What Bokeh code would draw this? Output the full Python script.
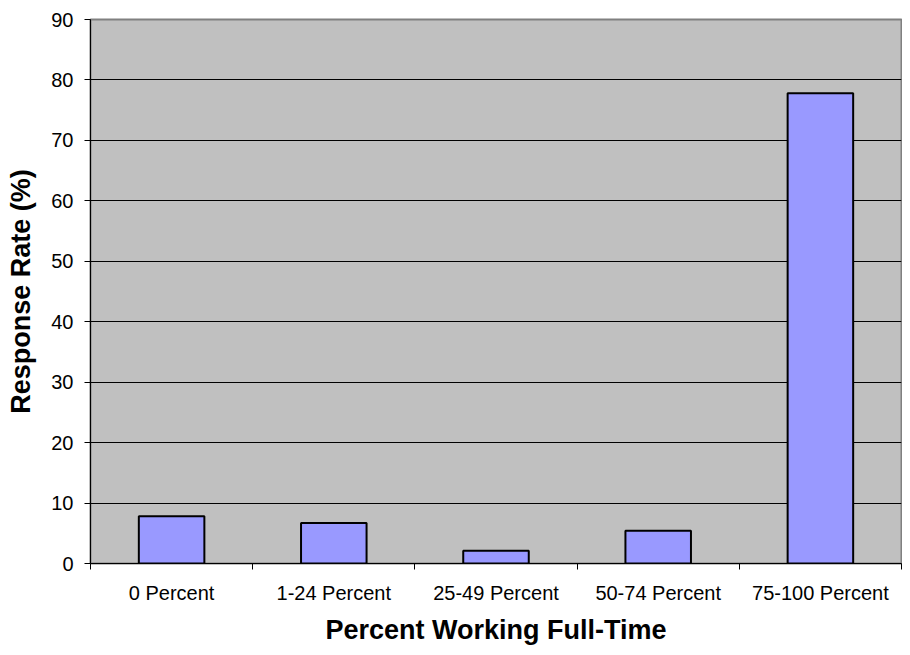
from bokeh.plotting import figure
from bokeh.models import FixedTicker, Range1d
from bokeh.embed import file_html
from bokeh.resources import INLINE

categories = ["0 Percent", "1-24 Percent", "25-49 Percent", "50-74 Percent", "75-100 Percent"]
response_rate = [7.8, 6.7, 2.1, 5.4, 77.8]
y_ticks = [0, 10, 20, 30, 40, 50, 60, 70, 80, 90]

xs = [i + 0.5 for i in range(len(categories))]

p = figure(width=902, height=647, output_backend="svg", toolbar_location=None,
           x_range=Range1d(0, len(categories)), y_range=Range1d(0, 90),
           min_border_left=90, min_border_right=1, min_border_top=19, min_border_bottom=84)

p.background_fill_color = "#C0C0C0"
p.border_fill_color = "white"
p.outline_line_color = "#808080"
p.outline_line_width = 2

p.vbar(x=xs, top=response_rate, width=0.404, bottom=0,
       fill_color="#9999FF", line_color="black", line_width=2)

FONT = "Liberation Sans"

# x axis
p.xaxis.ticker = FixedTicker(ticks=xs, minor_ticks=list(range(len(categories) + 1)))
p.xaxis.major_label_overrides = {x: c for x, c in zip(xs, categories)}
p.xaxis.major_tick_line_color = None
p.xaxis.major_tick_in = 0
p.xaxis.major_tick_out = 6
p.xaxis.minor_tick_in = 0
p.xaxis.minor_tick_out = 6
p.xaxis.minor_tick_line_color = "black"
p.xaxis.axis_line_color = "black"
p.xaxis.major_label_text_font = FONT
p.xaxis.major_label_text_font_size = "20px"
p.xaxis.major_label_text_color = "black"
p.xaxis.major_label_standoff = 12
p.xaxis.axis_label = "Percent Working Full-Time"
p.xaxis.axis_label_text_font = FONT
p.xaxis.axis_label_text_font_size = "27px"
p.xaxis.axis_label_text_font_style = "bold"
p.xaxis.axis_label_text_color = "black"
p.xaxis.axis_label_standoff = 8

# y axis
p.yaxis.ticker = FixedTicker(ticks=y_ticks)
p.yaxis.major_tick_in = 0
p.yaxis.major_tick_out = 6
p.yaxis.minor_tick_line_color = None
p.yaxis.axis_line_color = "black"
p.yaxis.major_tick_line_color = "black"
p.yaxis.major_label_text_font = FONT
p.yaxis.major_label_text_font_size = "20px"
p.yaxis.major_label_text_color = "black"
p.yaxis.major_label_standoff = 11
p.yaxis.axis_label = "Response Rate (%)"
p.yaxis.axis_label_text_font = FONT
p.yaxis.axis_label_text_font_size = "27px"
p.yaxis.axis_label_text_font_style = "bold"
p.yaxis.axis_label_text_color = "black"
p.yaxis.axis_label_standoff = 12

p.xgrid.grid_line_color = None
p.ygrid.ticker = FixedTicker(ticks=y_ticks)
p.ygrid.grid_line_color = "black"
p.ygrid.grid_line_width = 1

open("out.html", "w").write(file_html(p, INLINE))
